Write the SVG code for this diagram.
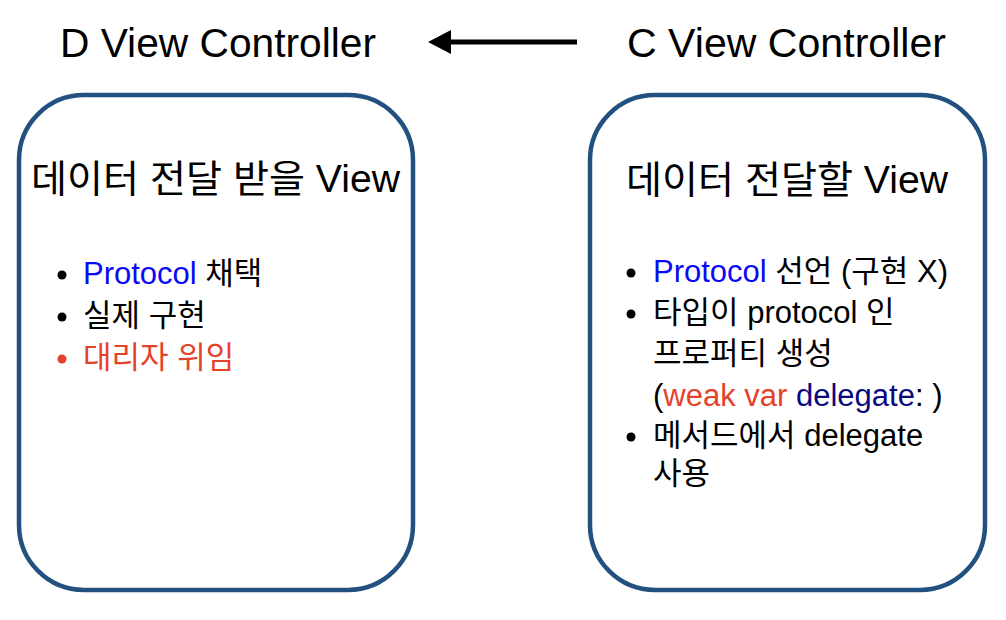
<svg xmlns="http://www.w3.org/2000/svg" width="1006" height="620" viewBox="0 0 1006 620">
<style>
text{font-family:"Liberation Sans","Noto Sans CJK KR",sans-serif;fill:#000}
.title{font-size:41px}
.head{font-size:38px}
.item{font-size:31px}
.box{fill:#fff;stroke:#22507f;stroke-width:4.5}
.blue{fill:#0a0af5}
.red{fill:#e5422b}
.navy{fill:#0a0a80}
</style>
<rect width="1006" height="620" fill="#fff"/>
<g id="connectors">
<line x1="577" y1="42" x2="449" y2="42" stroke="#000" stroke-width="5"/>
<polygon points="428,42 451,30 451,54" fill="#000"/>
</g>
<g id="labelD"><text class="title" x="60" y="57" textLength="316" lengthAdjust="spacingAndGlyphs">D View Controller</text></g>
<g id="labelC"><text class="title" x="627" y="57" textLength="319" lengthAdjust="spacingAndGlyphs">C View Controller</text></g>
<g id="nodeD">
<rect class="box" x="19" y="95" width="394" height="495" rx="65" ry="65"/>
<text class="head" x="31" y="192" textLength="369" lengthAdjust="spacingAndGlyphs">데이터 전달 받을 View</text>
<circle cx="62" cy="275" r="4.5"/>
<text class="item" x="83" y="284"><tspan class="blue">Protocol</tspan> 채택</text>
<circle cx="62" cy="317" r="4.5"/>
<text class="item" x="83" y="326">실제 구현</text>
<circle cx="62" cy="359" r="4.5" class="red"/>
<text class="item red" x="83" y="368">대리자 위임</text>
</g>
<g id="nodeC">
<rect class="box" x="590" y="95" width="395" height="495" rx="65" ry="65"/>
<text class="head" x="626" y="193" textLength="322" lengthAdjust="spacingAndGlyphs">데이터 전달할 View</text>
<circle cx="631" cy="273" r="4.5"/>
<text class="item" x="653" y="282"><tspan class="blue">Protocol</tspan> 선언 (구현 X)</text>
<circle cx="631" cy="314" r="4.5"/>
<text class="item" x="653" y="323">타입이 protocol 인</text>
<text class="item" x="653" y="364">프로퍼티 생성</text>
<text class="item" x="653" y="406">(<tspan class="red">weak var</tspan> <tspan class="navy">delegate</tspan>: )</text>
<circle cx="631" cy="437" r="4.5"/>
<text class="item" x="653" y="446">메서드에서 delegate</text>
<text class="item" x="653" y="484">사용</text>
</g>
</svg>
